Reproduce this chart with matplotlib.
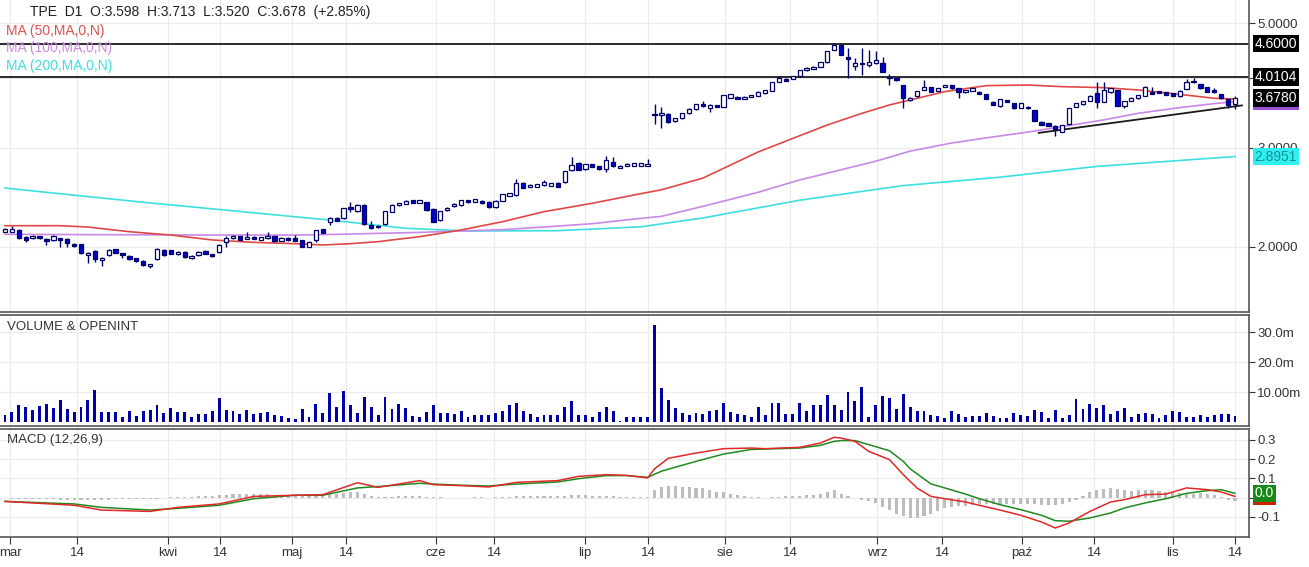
import numpy as np
import matplotlib
matplotlib.use('Agg')
import matplotlib.pyplot as plt
from matplotlib.transforms import blended_transform_factory
from matplotlib.ticker import FixedLocator, NullLocator, FixedFormatter, NullFormatter

plt.rcParams['font.family'] = ['Liberation Sans', 'DejaVu Sans']

# ---------------- data ----------------
opens = [2.127,2.127,2.142,2.081,2.070,2.087,2.064,2.053,2.070,2.064,2.025,2.020,1.931,1.965,1.894,1.933,1.979,1.949,1.928,1.907,
         1.889,1.845,1.899,1.974,1.971,1.941,1.960,1.910,1.933,1.965,1.941,1.955,2.042,2.070,2.087,2.064,2.081,2.056,2.070,2.087,
         2.047,2.073,2.075,2.053,2.000,2.053,2.148,2.216,2.250,2.247,2.350,2.315,2.373,2.186,2.166,2.192,2.309,2.373,2.387,2.420,
         2.396,2.400,2.335,2.228,2.325,2.360,2.370,2.420,2.406,2.413,2.403,2.350,2.413,2.466,2.472,2.600,2.555,2.555,2.576,2.569,
         2.600,2.607,2.735,2.820,2.750,2.804,2.781,2.750,2.827,2.766,2.789,2.789,2.789,2.789,3.452,3.433,3.452,3.349,3.387,3.457,
         3.519,3.587,3.538,3.572,3.553,3.686,3.701,3.666,3.696,3.716,3.752,3.788,3.936,3.985,3.979,4.023,4.123,4.146,4.185,4.261,
         4.484,4.574,4.355,4.202,4.243,4.214,4.249,4.243,4.018,3.990,3.882,3.646,3.706,3.804,3.851,3.788,3.856,3.882,3.830,3.768,
         3.788,3.778,3.736,3.626,3.558,3.651,3.601,3.538,3.553,3.504,3.340,3.317,3.286,3.206,3.304,3.553,3.587,3.636,3.752,3.626,
         3.768,3.804,3.567,3.636,3.676,3.711,3.778,3.788,3.768,3.757,3.706,3.820,3.947,3.893,3.846,3.804,3.736,3.666,3.598]
highs = [2.163,2.175,2.148,2.087,2.095,2.092,2.070,2.098,2.075,2.070,2.030,2.025,1.960,1.975,1.915,1.980,1.985,1.952,1.933,1.912,
         1.894,1.865,1.990,1.980,1.976,1.965,1.965,1.930,1.965,1.970,1.944,2.020,2.092,2.098,2.092,2.127,2.087,2.084,2.121,2.092,
         2.078,2.078,2.098,2.058,2.047,2.145,2.153,2.259,2.255,2.347,2.400,2.379,2.379,2.225,2.186,2.320,2.379,2.396,2.420,2.426,
         2.426,2.406,2.340,2.320,2.352,2.392,2.425,2.426,2.436,2.418,2.408,2.422,2.485,2.495,2.639,2.610,2.585,2.588,2.628,2.600,
         2.605,2.733,2.889,2.827,2.812,2.810,2.786,2.905,2.889,2.795,2.818,2.820,2.822,2.866,3.587,3.553,3.460,3.395,3.465,3.526,
         3.594,3.641,3.584,3.580,3.733,3.743,3.708,3.708,3.733,3.785,3.805,3.932,4.023,3.993,4.030,4.130,4.175,4.192,4.268,4.470,
         4.600,4.600,4.524,4.343,4.512,4.481,4.463,4.361,4.056,3.995,3.888,3.690,3.795,3.963,3.857,3.836,3.890,3.888,3.836,3.810,
         3.836,3.784,3.742,3.632,3.672,3.657,3.607,3.607,3.560,3.510,3.346,3.323,3.292,3.301,3.534,3.607,3.642,3.722,3.936,3.936,
         3.836,3.810,3.642,3.692,3.732,3.862,3.856,3.795,3.774,3.763,3.800,3.979,3.990,3.900,3.852,3.830,3.742,3.672,3.713]
lows = [2.121,2.121,2.064,2.036,2.064,2.064,2.014,2.050,2.000,2.000,1.995,1.940,1.868,1.881,1.850,1.928,1.947,1.912,1.897,1.881,
        1.848,1.830,1.894,1.928,1.940,1.936,1.912,1.905,1.928,1.940,1.920,1.950,2.000,2.064,2.055,2.060,2.060,2.052,2.066,2.042,
        2.044,2.050,2.047,1.995,1.995,2.036,2.115,2.186,2.220,2.242,2.309,2.310,2.185,2.150,2.160,2.186,2.305,2.368,2.383,2.392,
        2.392,2.318,2.210,2.222,2.320,2.355,2.365,2.396,2.400,2.386,2.345,2.345,2.410,2.460,2.466,2.540,2.550,2.550,2.570,2.565,
        2.552,2.600,2.730,2.738,2.745,2.768,2.745,2.714,2.776,2.760,2.785,2.785,2.785,2.785,3.304,3.251,3.325,3.340,3.380,3.450,
        3.510,3.553,3.480,3.540,3.548,3.680,3.660,3.660,3.690,3.710,3.745,3.782,3.930,3.940,3.973,4.018,4.118,4.140,4.180,4.255,
        4.480,4.385,4.001,4.128,4.045,4.185,4.240,4.089,3.882,3.950,3.538,3.640,3.700,3.800,3.772,3.782,3.850,3.825,3.686,3.762,
        3.782,3.742,3.660,3.570,3.552,3.620,3.522,3.532,3.520,3.343,3.290,3.280,3.154,3.200,3.300,3.548,3.582,3.630,3.528,3.620,
        3.762,3.560,3.528,3.630,3.670,3.705,3.742,3.750,3.720,3.710,3.700,3.815,3.920,3.825,3.772,3.762,3.670,3.528,3.520]
closes = [2.148,2.151,2.070,2.053,2.087,2.070,2.047,2.092,2.053,2.028,2.003,1.947,1.952,1.899,1.910,1.974,1.952,1.933,1.902,1.886,
          1.853,1.860,1.982,1.933,1.944,1.960,1.917,1.925,1.960,1.944,1.925,2.014,2.070,2.092,2.059,2.081,2.064,2.078,2.087,2.047,
          2.073,2.053,2.050,2.000,2.042,2.139,2.118,2.247,2.225,2.341,2.335,2.373,2.192,2.157,2.180,2.315,2.373,2.390,2.413,2.396,
          2.420,2.322,2.216,2.315,2.347,2.387,2.420,2.400,2.430,2.390,2.350,2.416,2.479,2.489,2.593,2.548,2.579,2.583,2.604,2.593,
          2.558,2.728,2.796,2.743,2.807,2.773,2.750,2.858,2.781,2.789,2.812,2.815,2.815,2.812,3.429,3.461,3.331,3.387,3.457,3.519,
          3.587,3.558,3.577,3.548,3.726,3.736,3.666,3.701,3.726,3.778,3.799,3.925,3.990,3.947,4.023,4.123,4.168,4.185,4.261,4.463,
          4.565,4.390,4.320,4.243,4.226,4.272,4.296,4.100,3.990,3.957,3.686,3.686,3.788,3.856,3.778,3.830,3.882,3.830,3.778,3.804,
          3.830,3.747,3.666,3.577,3.666,3.626,3.528,3.601,3.528,3.349,3.295,3.286,3.242,3.295,3.528,3.601,3.636,3.716,3.626,3.804,
          3.830,3.567,3.636,3.686,3.726,3.856,3.747,3.757,3.726,3.716,3.793,3.936,3.925,3.830,3.778,3.768,3.676,3.576,3.678]

volume_m = [2.4,3.3,5.6,5.1,4.0,5.4,6.0,4.7,7.3,4.3, 3.3,4.9,7.3,10.7,3.3,3.3,3.3,1.8,3.7,2.0,
            3.6,4.0,5.8,2.9,4.6,3.2,3.2,1.7,2.8,2.7, 3.6,8.0,3.9,3.6,2.7,3.9,2.7,2.9,3.2,2.4,
            2.0,1.3,1.1,4.2,1.8,6.0,2.9,9.7,5.0,10.2, 5.7,2.9,8.3,5.0,2.4,8.3,4.2,6.0,4.6,2.0,
            1.8,3.2,5.6,3.1,2.9,2.7,3.6,1.8,2.3,2.3, 2.3,2.9,3.6,5.6,6.4,3.6,2.7,1.6,2.3,2.3,
            2.3,5.1,7.0,2.3,2.3,1.7,3.4,5.1,3.7,0.4, 1.6,1.6,1.6,1.6,32.2,
            11.3,7.3,4.7,3.0,2.3,2.9,2.7,3.7,4.0,6.3, 3.3,2.7,2.4,1.8,5.0,2.3,6.3,6.3,2.7,2.7,
            6.3,3.7,5.7,5.7,9.0,5.7,4.0,10.0,7.0,11.7, 1.7,5.7,8.7,8.0,4.3,9.3,5.0,3.7,3.7,2.3,
            2.0,1.3,3.7,2.7,1.7,2.0,2.0,3.0,2.0,1.3, 1.3,3.0,2.3,2.0,4.0,3.3,1.3,4.0,1.3,2.3,
            7.7,4.3,6.0,4.7,5.7,2.7,3.7,4.7,1.7,2.7, 3.0,2.7,1.3,2.3,3.7,3.3,1.7,1.7,2.3,1.7,
            2.3,2.7,2.7,2.0]

macd_hist = [-0.003,-0.005,-0.006,-0.007,-0.008,-0.008,-0.009,-0.009,-0.010,-0.010,-0.011,-0.012,-0.012,-0.012,-0.011,-0.010,
             -0.009,-0.008,-0.007,-0.006,-0.006,-0.006,-0.004,-0.003,
             0.004,0.004,0.005,0.006,0.007,0.008,0.010,0.012,0.016,0.018,0.019,0.020,0.020,0.019,0.018,0.016,0.014,0.012,0.010,
             0.008,0.010,0.014,0.016,0.020,0.022,0.026,0.030,0.030,0.018,0.008,0.004,0.004,0.006,0.008,0.008,0.010,0.008,0.006,
             0.004,0.003,
             0.0,0.0,0.0,0.0,0.002,0.003,0.0,0.004,0.005,0.006,0.008,0.008,0.008,0.008,0.009,0.010,0.009,0.010,0.012,0.012,
             0.012,0.011,0.010,0.010,0.008,0.006,0.005,0.004,0.002,0.006,
             0.038,0.055,0.059,0.059,0.055,0.055,0.052,0.052,0.038,0.028,0.028,0.021,0.014,0.007,0.003,0.003,0.0,0.003,0.005,
             0.007,0.008,0.010,0.012,0.014,0.021,0.028,0.038,0.021,0.010,0.0,
             -0.014,-0.017,-0.028,-0.048,-0.066,-0.087,-0.097,-0.104,-0.104,-0.093,-0.087,-0.069,-0.055,-0.048,-0.045,-0.042,
             -0.038,-0.035,-0.035,-0.031,-0.035,-0.035,-0.031,-0.031,-0.035,-0.035,-0.038,-0.038,-0.038,-0.035,-0.024,-0.010,
             0.007,0.028,0.038,0.045,0.052,0.045,0.038,0.035,0.038,0.038,0.038,0.035,0.028,0.028,0.024,0.024,0.021,0.024,0.021,
             0.014,0.003,-0.010,-0.017]

ma50_idx = [0, 8, 12, 18, 24, 30, 36, 42, 46, 50, 54, 60, 66, 72, 78, 85, 91, 95, 101, 109, 119, 124, 128, 131, 136, 142, 148, 153, 159, 164, 170, 175, 178]
ma50_val = [2.180, 2.180, 2.168, 2.127, 2.098, 2.056, 2.036, 2.025, 2.014, 2.025, 2.042, 2.084, 2.142, 2.216, 2.309, 2.390, 2.472,
            2.526, 2.650, 2.950, 3.295, 3.456, 3.577, 3.650, 3.778, 3.872, 3.882, 3.856, 3.840, 3.804, 3.736, 3.676, 3.666]
ma100_idx = [0, 30, 42, 48, 60, 66, 72, 78, 85, 91, 95, 101, 109, 115, 118, 126, 131, 137, 142, 148, 153, 159, 164, 170, 175, 178]
ma100_val = [2.104, 2.098, 2.098, 2.104, 2.121, 2.133, 2.145, 2.168, 2.198, 2.240, 2.265, 2.36, 2.50, 2.63, 2.685, 2.84, 2.96,
             3.06, 3.125, 3.20, 3.273, 3.364, 3.457, 3.538, 3.597, 3.626]
ma200_idx = [0, 20, 47, 58, 67, 80, 92, 101, 115, 130, 144, 158, 178]
ma200_val = [2.544, 2.40, 2.231, 2.157, 2.133, 2.136, 2.17, 2.25, 2.42, 2.57, 2.66, 2.78, 2.8951]

macd_idx = [0, 10, 14, 21, 25, 31, 36, 42, 46, 51, 54, 60, 62, 66, 70, 74, 80, 83, 87, 90, 93, 94, 96, 100, 104, 108, 110, 115,
            118, 120, 121, 123, 125, 128, 130, 132, 134, 136, 139, 141, 144, 147, 150, 152, 154, 157, 160, 162, 165, 168, 171,
            174, 176, 178]
macd_val = [-0.019, -0.039, -0.064, -0.071, -0.050, -0.032, 0.007, 0.013, 0.016, 0.078, 0.054, 0.089, 0.068, 0.063, 0.056,
            0.080, 0.089, 0.111, 0.120, 0.116, 0.103, 0.150, 0.205, 0.232, 0.255, 0.258, 0.255, 0.262, 0.284, 0.314, 0.310,
            0.293, 0.241, 0.198, 0.120, 0.050, 0.007, -0.005, -0.022, -0.039, -0.064, -0.091, -0.126, -0.157, -0.131, -0.071,
            -0.022, -0.010, 0.016, 0.019, 0.051, 0.042, 0.030, 0.007]
signal_idx = [0, 10, 14, 21, 25, 31, 36, 42, 46, 51, 54, 60, 62, 66, 70, 74, 80, 83, 87, 90, 93, 95, 100, 104, 108, 110, 115,
              118, 120, 121, 123, 125, 128, 130, 131, 134, 136, 139, 141, 144, 147, 150, 152, 154, 157, 160, 162, 165, 168, 171,
              174, 176, 178]
signal_val = [-0.019, -0.032, -0.050, -0.064, -0.055, -0.039, -0.005, 0.013, 0.013, 0.051, 0.058, 0.075, 0.071, 0.065, 0.061,
              0.071, 0.082, 0.099, 0.115, 0.115, 0.106, 0.138, 0.189, 0.227, 0.251, 0.253, 0.258, 0.272, 0.293, 0.297, 0.297,
              0.276, 0.244, 0.189, 0.150, 0.072, 0.051, 0.019, -0.005, -0.036, -0.062, -0.091, -0.119, -0.122, -0.105, -0.079,
              -0.053, -0.027, -0.005, 0.023, 0.037, 0.042, 0.023]

trend_idx = [149.6, 179.0]
trend_val = [3.19, 3.57]
hlines = [4.6, 4.0104]

last_close = 3.678
xtick_pos = [0.72, 10.42, 23.59, 31.11, 41.53, 49.35, 62.37, 70.77, 83.94, 93.05, 104.2, 113.6, 126.2, 135.6, 147.2, 157.6, 169.0, 178.0]
xtick_lbl = ['mar', '14', 'kwi', '14', 'maj', '14', 'cze', '14', 'lip', '14', 'sie', '14', 'wrz', '14', 'paź', '14', 'lis', '14']

title = 'TPE  D1  O:3.598  H:3.713  L:3.520  C:3.678  (+2.85%)'

# ---------------- figure ----------------
W, H = 1309, 567
fig = plt.figure(figsize=(W / 100, H / 100), dpi=100)
fig.patch.set_facecolor('white')
right = 1249 / W
ax1 = fig.add_axes([0, 1 - 312 / H, right, 312 / H])
ax2 = fig.add_axes([0, 1 - 426 / H, right, 111 / H], sharex=ax1)
ax3 = fig.add_axes([0, 1 - 537 / H, right, 108 / H], sharex=ax1)

GRID = '#ebebeb'
SPINE = '#555555'
TXT = '#333333'
for ax in (ax1, ax2, ax3):
    ax.set_axisbelow(True)
    ax.spines['left'].set_visible(False)
    for s in ('right', 'top', 'bottom'):
        ax.spines[s].set_color(SPINE)
        ax.spines[s].set_linewidth(1.2)
    ax.yaxis.tick_right()
    ax.tick_params(axis='y', which='major', direction='out', length=4, width=0.8, pad=2,
                   labelsize=9.5, colors=TXT)
    ax.tick_params(axis='y', which='minor', length=0)
    ax.grid(True, color=GRID, lw=0.8)
ax1.spines['top'].set_visible(False)

x = np.arange(len(opens))
ax1.set_xlim(-0.7236, 180.03)
ax1.xaxis.set_major_locator(FixedLocator(xtick_pos))
ax3.set_xticks(xtick_pos)
ax3.set_xticklabels(xtick_lbl)
ax3.tick_params(axis='x', direction='out', length=5, width=0.8, pad=2, labelsize=9.5, colors=TXT)
for ax in (ax1, ax2):
    ax.tick_params(axis='x', length=0, labelbottom=False)

# ---------------- price panel ----------------
ax1.set_yscale('log')
ax1.set_ylim(1.5301, 5.5015)
ax1.yaxis.set_major_locator(FixedLocator([2, 3, 4, 5]))
ax1.yaxis.set_major_formatter(FixedFormatter(['2.0000', '3.0000', '4.0000', '5.0000']))
ax1.yaxis.set_minor_locator(NullLocator())
ax1.yaxis.set_minor_formatter(NullFormatter())

o = np.array(opens); hi = np.array(highs); lo = np.array(lows); c = np.array(closes)
n = min(len(o), len(hi), len(lo), len(c))
o, hi, lo, c, xc = o[:n], hi[:n], lo[:n], c[:n], x[:n]
up = c >= o
blo = np.minimum(o, c); bhi = np.maximum(o, c)
bh = np.maximum(bhi - blo, 0.004)

ax1.plot(ma200_idx, ma200_val, color='#3de0e0', lw=1.2, zorder=2)
ax1.plot(ma100_idx, ma100_val, color='#c888e8', lw=1.2, zorder=2)
ax1.plot(ma50_idx, ma50_val, color='#e04848', lw=1.2, zorder=2)
for v in hlines:
    ax1.axhline(v, color='#1a1a1a', lw=1.3, zorder=2.5)
ax1.plot(trend_idx, trend_val, color='#1a1a1a', lw=1.3, zorder=2.5)

ax1.vlines(xc, lo, hi, color='#000066', lw=1.0, zorder=3)
ax1.bar(xc[up], bh[up], bottom=blo[up], width=0.62, color='white', edgecolor='#000066', lw=0.9, zorder=4)
ax1.bar(xc[~up], bh[~up], bottom=blo[~up], width=0.62, color='#0000cc', edgecolor='#000066', lw=0.9, zorder=4)

trans1 = blended_transform_factory(ax1.transAxes, ax1.transData)
def price_box(ax, trans, val, txt, fc, tc, z):
    ax.text(1.0045, val, txt, transform=trans, color=tc, fontsize=10, va='center', ha='left',
            bbox=dict(boxstyle='square,pad=0.13', fc=fc, ec='none'), clip_on=False, zorder=z)

price_box(ax1, trans1, 4.6, '4.6000', 'black', 'white', 10)
price_box(ax1, trans1, 4.0104, '4.0104', 'black', 'white', 10)
price_box(ax1, trans1, ma50_val[-1], '%.4f' % ma50_val[-1], '#e04848', 'white', 9)
price_box(ax1, trans1, ma100_val[-1], '%.4f' % ma100_val[-1], '#9b4fd6', 'white', 9.5)
price_box(ax1, trans1, last_close, '%.4f' % last_close, 'black', 'white', 10)
price_box(ax1, trans1, ma200_val[-1], '%.4f' % ma200_val[-1], '#2ff0f0', '#1b8f8f', 10)

# ---------------- volume panel ----------------
vol = np.array(volume_m[:n]) * 1e6
ax2.bar(xc[:len(vol)], vol, width=0.42, color='#0000aa', zorder=3)
ax2.set_ylim(-1.333e6, 35.67e6)
ax2.yaxis.set_major_locator(FixedLocator([10e6, 20e6, 30e6]))
ax2.yaxis.set_major_formatter(FixedFormatter(['10.00m', '20.0m', '30.0m']))

# ---------------- MACD panel ----------------
hist = np.array(macd_hist[:n])
ax3.bar(xc[:len(hist)], hist, width=0.45, color='#bdbdbd', zorder=2)
ax3.plot(signal_idx, signal_val, color='#208a20', lw=1.1, zorder=3)
ax3.plot(macd_idx, macd_val, color='#e02828', lw=1.1, zorder=3)
ax3.set_ylim(-0.2039, 0.3571)
ax3.yaxis.set_major_locator(FixedLocator([-0.1, 0.0, 0.1, 0.2, 0.3]))
ax3.yaxis.set_major_formatter(FixedFormatter(['-0.1', '0.0', '0.1', '0.2', '0.3']))
trans3 = blended_transform_factory(ax3.transAxes, ax3.transData)
price_box(ax3, trans3, macd_val[-1], '0.0', '#cc2200', 'white', 9)
price_box(ax3, trans3, signal_val[-1], '0.0', '#168a16', 'white', 10)

# ---------------- texts ----------------
def ftext(px, py, s, color, size=10):
    fig.text(px / W, 1 - py / H, s, color=color, fontsize=size, ha='left', va='center')

ftext(30, 12, title, '#222222')
ftext(6, 31, 'MA (50,MA,0,N)', '#e05050')
ftext(6, 48, 'MA (100,MA,0,N)', '#cc88e0')
ftext(6, 66, 'MA (200,MA,0,N)', '#3ddede')
ftext(7, 327, 'VOLUME & OPENINT', TXT, 9.5)
ftext(7, 440, 'MACD (12,26,9)', TXT, 9.5)

fig.savefig('out.png', dpi=100, facecolor='white')
